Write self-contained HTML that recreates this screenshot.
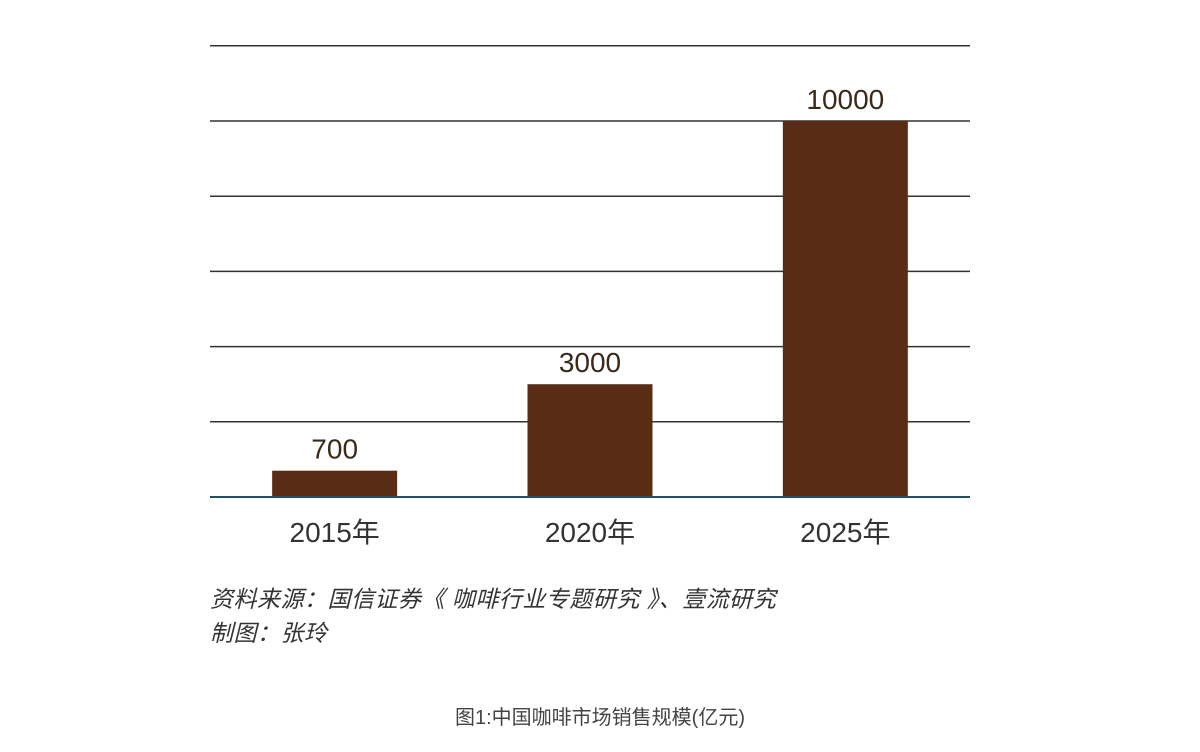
<!DOCTYPE html>
<html><head><meta charset="utf-8"><style>
body{margin:0;background:#fff;width:1200px;height:752px;overflow:hidden;font-family:"Liberation Sans","Noto Sans CJK SC",sans-serif;}
.note{position:absolute;left:210px;font-size:23px;color:#333;font-style:italic;letter-spacing:0.5px;}
#cap{position:absolute;left:0;width:1200px;top:701px;text-align:center;font-size:20px;color:#444;}
</style></head><body>
<svg id="chart" width="1200" height="590" style="position:absolute;left:0;top:0" xmlns="http://www.w3.org/2000/svg"></svg>
<div class="note" style="top:580px">资料来源：国信证券《 咖啡行业专题研究 》、壹流研究</div>
<div class="note" style="top:614px">制图：张玲</div>
<div id="cap">图1:中国咖啡市场销售规模(亿元)</div>
<script>
const categories=["2015年","2020年","2025年"];
const values=[700,3000,10000];
const gridTicks=[2000,4000,6000,8000,10000,12000];
const svg=document.getElementById('chart');
const NS='http://www.w3.org/2000/svg';
const x0=210,x1=970,base=497,pxPer=376/10000;
const y=v=>base-v*pxPer;
const band=(x1-x0)/categories.length;
const bw=125;
function mk(t,a){const e=document.createElementNS(NS,t);for(const k in a)e.setAttribute(k,a[k]);svg.appendChild(e);return e;}
gridTicks.forEach(t=>{
 const l=mk('line',{x1:x0,x2:x1,y1:y(t),y2:y(t),stroke:'#333','stroke-width':1.5});
 
 
});
categories.forEach((c,i)=>{
 const cx=x0+band*i+band/2+(i-1)*2;
 const r=mk('rect',{x:cx-bw/2,y:y(values[i]),width:bw,height:base-y(values[i]),fill:'#5a2c16'});
 
 
 const v=mk('text',{x:cx,y:y(values[i])-12,'text-anchor':'middle','font-size':28,fill:'#3a2a1a'});
 v.textContent=values[i];
 
 
 const t=mk('text',{x:cx,y:542,'text-anchor':'middle','font-size':28,fill:'#333'});
 t.textContent=c;
 
 
});
const b=mk('line',{x1:x0,x2:x1,y1:base,y2:base,stroke:'#1f4f6a','stroke-width':2});


</script>
</body></html>
